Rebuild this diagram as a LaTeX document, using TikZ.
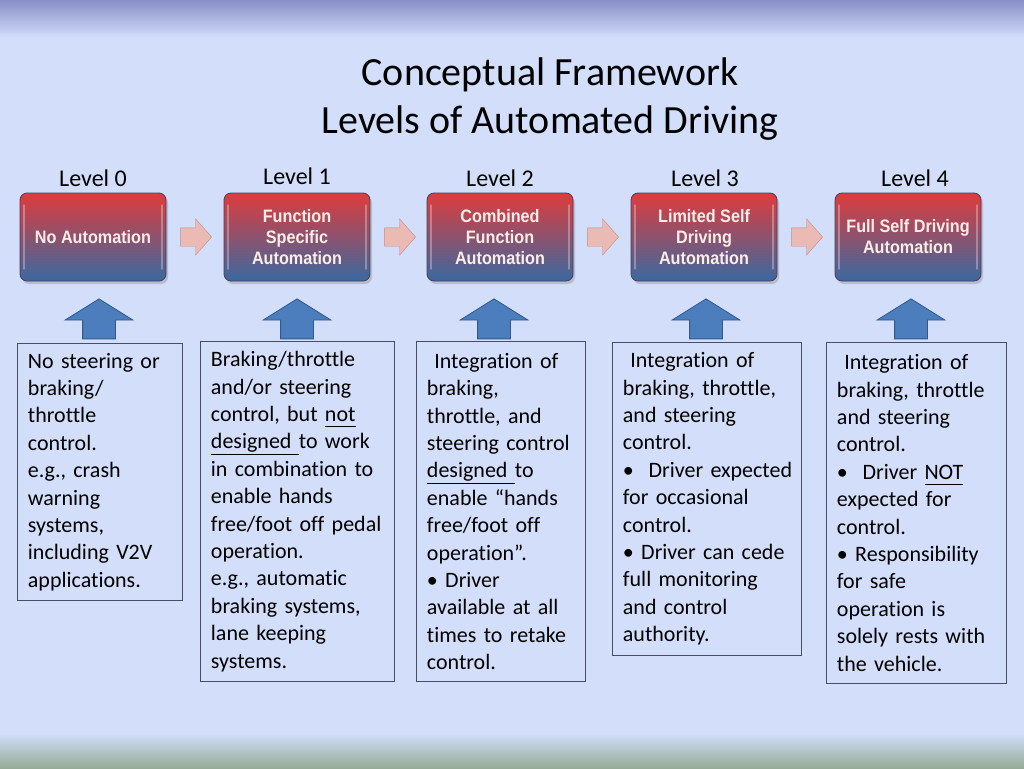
\documentclass[tikz,border=0pt]{standalone}
\usepackage{fontspec}
\setmainfont{Carlito}[Ligatures=NoCommon]
\newfontfamily\narrowfont[FakeStretch=0.9]{Liberation Sans}
\usetikzlibrary{positioning,shapes.arrows,shadows}
\definecolor{bgblue}{RGB}{210,222,250}
\definecolor{topband}{RGB}{137,143,200}
\definecolor{botband}{RGB}{150,172,150}
\definecolor{boxred}{RGB}{222,60,60}
\definecolor{boxmid}{RGB}{160,76,102}
\definecolor{boxblue}{RGB}{58,105,160}
\definecolor{boxline}{RGB}{75,60,90}
\definecolor{boxtext}{RGB}{255,236,230}
\definecolor{pinkfill}{RGB}{236,186,180}
\definecolor{pinkline}{RGB}{190,140,140}
\definecolor{upfill}{RGB}{76,126,190}
\definecolor{upline}{RGB}{50,88,140}
\definecolor{descline}{RGB}{70,78,100}
\hyphenpenalty=10000
\newcommand{\udl}[1]{\underline{#1\vphantom{g}}}
\begin{document}
\begin{tikzpicture}[x=1pt,y=-1pt,
  lvl/.style={font=\fontsize{24}{28}\selectfont},
  lvlbox/.style={rounded corners=7pt, minimum width=146pt, minimum height=88pt,
    top color=boxred, middle color=boxmid, bottom color=boxblue,
    draw=boxline, line width=.8pt, align=center, text=boxtext,
    font=\narrowfont\bfseries\fontsize{18}{21}\selectfont,
    drop shadow={shadow xshift=2pt, shadow yshift=-3pt, opacity=.35},
    path picture={
      \draw[white, opacity=.3, line width=1.5pt, line cap=round]
        ([xshift=4pt,yshift=-12pt]path picture bounding box.north west) --
        ([xshift=4pt,yshift=12pt]path picture bounding box.south west)
        ([xshift=-4pt,yshift=-12pt]path picture bounding box.north east) --
        ([xshift=-4pt,yshift=12pt]path picture bounding box.south east);}},
  nextarr/.style={single arrow, fill=pinkfill, draw=pinkline, inner xsep=0pt,
    inner ysep=9pt, minimum height=31pt, single arrow head extend=9pt,
    single arrow tip angle=97},
  uparr/.style={single arrow, rotate=90, fill=upfill, draw=upline, line width=.8pt,
    inner xsep=0pt, inner ysep=16pt, minimum height=40pt,
    single arrow head extend=17.5pt, single arrow tip angle=116},
  desc/.style 2 args={draw=descline, line width=.9pt, fill=bgblue, anchor=north west,
    align=left, inner xsep=10.5pt, text width=#1, minimum height=#2,
    font=\fontsize{22}{27.4}\selectfont}]
\useasboundingbox (0,0) rectangle (1024,768);
% background and bands
\fill[bgblue] (0,0) rectangle (1024,768);
\shade[top color=topband, bottom color=bgblue] (0,0) rectangle (1024,38);
\shade[top color=bgblue, bottom color=botband] (0,733) rectangle (1024,768);
% title
\node[font=\fontsize{40}{48}\selectfont, align=center] (title) at (550,99)
  {Conceptual Framework\\Levels of Automated Driving};
% levels
\node[lvl] (l0) at (93,178) {Level 0};
\node[lvl] (l1) at (297,176) {Level 1};
\node[lvl] (l2) at (500,178) {Level 2};
\node[lvl] (l3) at (705,178) {Level 3};
\node[lvl] (l4) at (915,178) {Level 4};
\node[lvlbox] (b0) at (93,237) {No Automation};
\node[lvlbox] (b1) at (297,237) {Function\\Specific\\Automation};
\node[lvlbox] (b2) at (500,237) {Combined\\Function\\Automation};
\node[lvlbox] (b3) at (704,237) {Limited Self\\Driving\\Automation};
\node[lvlbox] (b4) at (908,237) {Full Self Driving\\Automation};
% arrows between levels
\node[nextarr, right=14pt of b0] (a01) {};
\node[nextarr, right=14pt of b1] (a12) {};
\node[nextarr, right=14pt of b2] (a23) {};
\node[nextarr, right=14pt of b3] (a34) {};
% up arrows
\node[uparr] (u0) at (99,324) {};
\node[uparr] (u1) at (297,324) {};
\node[uparr] (u2) at (494,324) {};
\node[uparr] (u3) at (706,324) {};
\node[uparr] (u4) at (911,324) {};
% descriptions
\node[desc={144pt}{257pt}] (d0) at (17,343) {No steering or\\ braking/\\ throttle\\
  control.\\ e.g., crash\\ warning\\ systems,\\ including V2V\\ applications.};
\node[desc={173pt}{340pt}] (d1) at (200,341) {Braking/throttle\\ and/or steering\\
  control, but \udl{not}\\ \udl{designed\ }to work\\ in combination to\\ enable hands\\
  free/foot off pedal\\ operation.\\ e.g., automatic\\ braking systems,\\
  lane keeping\\ systems.};
\node[desc={148pt}{340pt}] (d2) at (416,341) {\ Integration of\\ braking,\\
  throttle, and\\ steering control\\ \udl{designed\ }to\\ enable “hands\\
  free/foot off\\ operation”.\\ • Driver\\ available at all\\ times to retake\\ control.};
\node[desc={168pt}{313pt}] (d3) at (612,342) {\ Integration of\\ braking, throttle,\\
  and steering\\ control.\\ \mbox{•\ \ Driver expected}\\ for occasional\\ control.\\
  • Driver can cede\\ full monitoring\\ and control\\ authority.};
\node[desc={159pt}{341pt}] (d4) at (826,342) {\ Integration of\\ braking, throttle\\
  and steering\\ control.\\ •\ \ Driver \udl{NOT}\\ expected for\\ control.\\
  • Responsibility\\ for safe\\ operation is\\ solely rests with\\ the vehicle.};
\end{tikzpicture}
\end{document}
